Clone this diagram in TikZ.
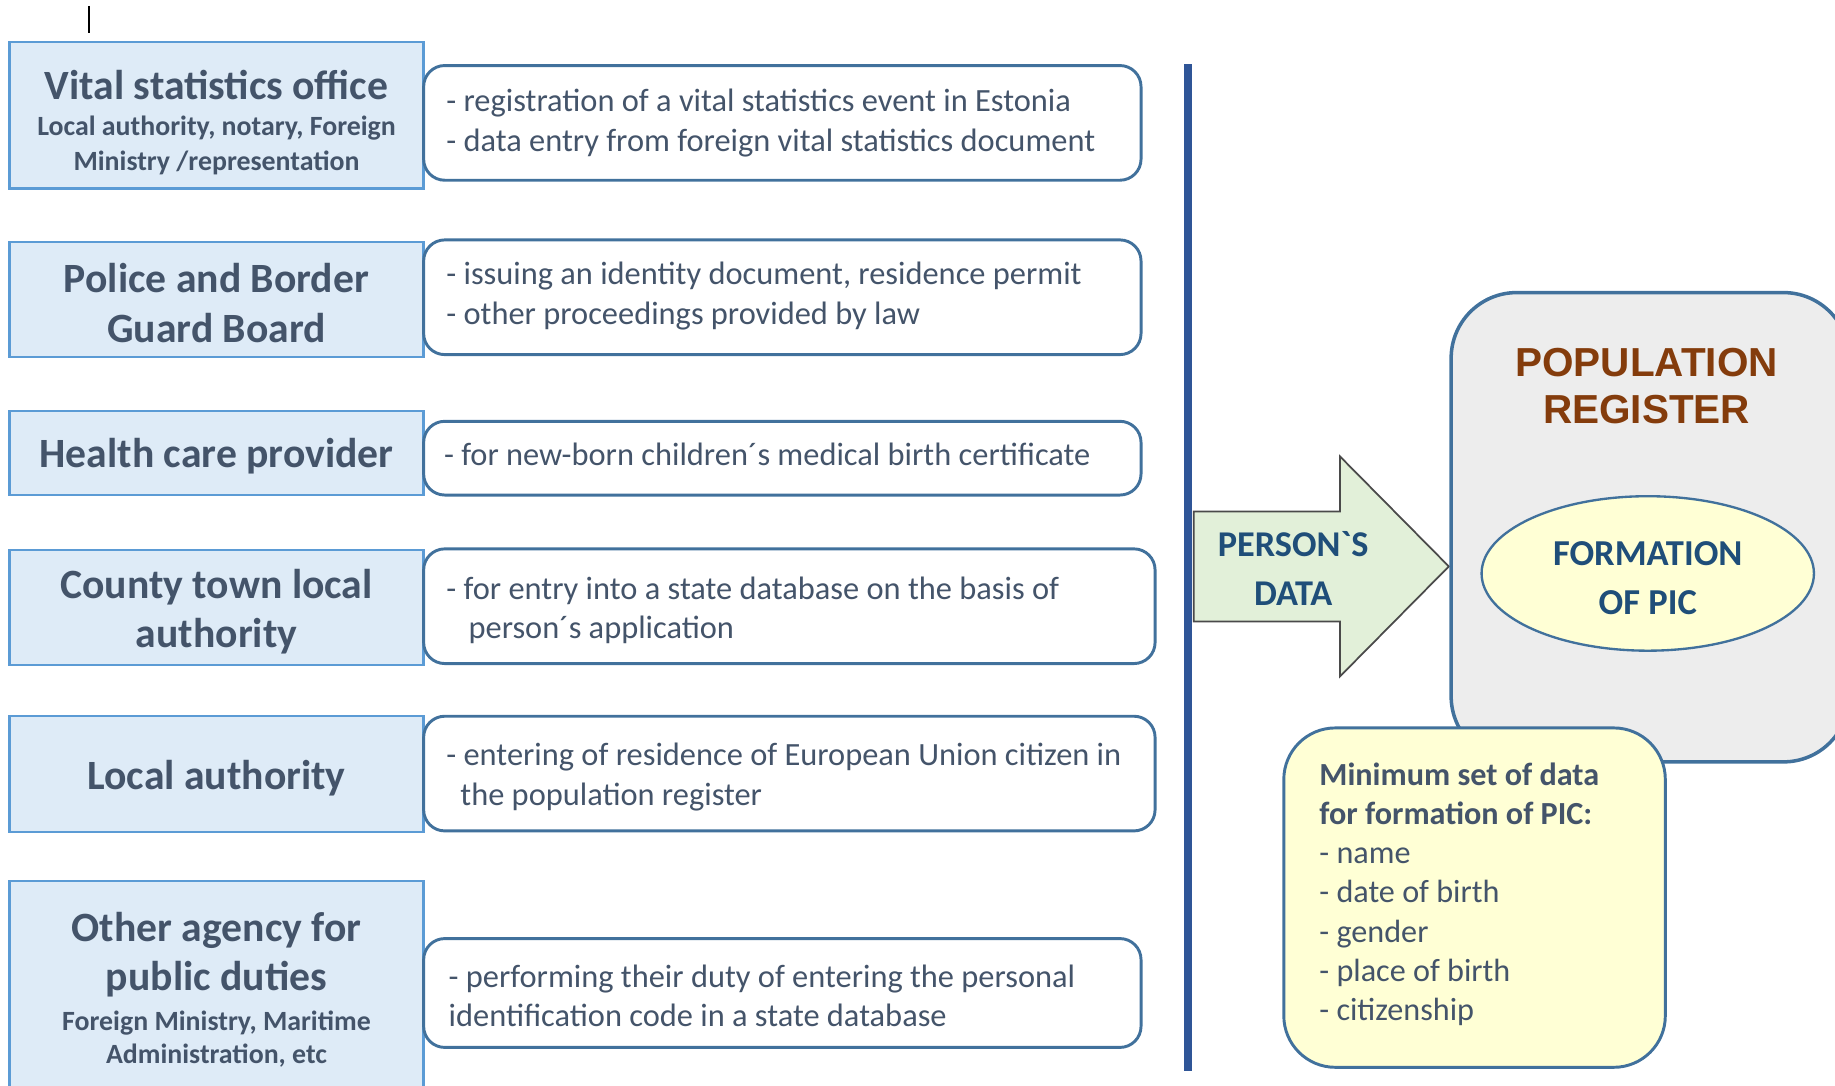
\documentclass[tikz,border=0pt]{standalone}
\usepackage{fontspec}
\setmainfont{Carlito}
\newfontfamily\rawcal{Carlito}
\newfontfamily\arialb{Liberation Sans}
\usetikzlibrary{shapes.geometric}
\definecolor{txt}{HTML}{44546A}
\definecolor{lfill}{HTML}{DEEBF7}
\definecolor{lborder}{HTML}{5B9BD5}
\definecolor{rborder}{HTML}{41719C}
\definecolor{vline}{HTML}{2F5597}
\definecolor{arrfill}{HTML}{E2F0D9}
\definecolor{arrdraw}{HTML}{4A4A4A}
\definecolor{prfill}{HTML}{EDEDED}
\definecolor{yfill}{HTML}{FFFFD5}
\definecolor{prbrown}{HTML}{843C0C}
\definecolor{dblue}{HTML}{1F4E79}
\begin{document}
\begin{tikzpicture}[x=0.5pt,y=-0.5pt,
  agency/.style={draw=lborder, fill=lfill, line width=1pt, minimum width=177pt, inner sep=0pt},
  agsub/.style={align=center, text=txt, font=\bfseries\fontsize{11.9}{15}\selectfont, inner sep=0pt},
  agtitle/.style={align=center, text=txt, font=\bfseries\fontsize{17.8}{21}\selectfont, inner sep=0pt},
  task/.style={draw=rborder, fill=white, line width=1.25pt, rounded corners=9pt, inner sep=0pt},
  tasktext/.style={anchor=west, align=left, text=txt, inner sep=0pt, font=\fontsize{13.85}{17}\selectfont},
]
\useasboundingbox (0,0) rectangle (1568,927.3);
\draw[black, line width=0.6pt] (76,5) -- (76,28);

% left agency boxes
\node[agency, minimum height=62.5pt] (vso) at (185,98.5) {};
\node[agtitle] (vsoT) at (185,73) {Vital statistics office};
\node[agsub] (vsoS) at (185,124) {Local authority, notary, Foreign\\Ministry /representation};
\node[agency, minimum height=49pt] (pbgb) at (185,256) {};
\node[agtitle] (pbgbT) at (185,259) {Police and Border\\Guard Board};
\node[agency, minimum height=36pt] (hcp) at (185,387) {};
\node[agtitle] (hcpT) at (185,390) {Health care provider};
\node[agency, minimum height=49pt] (ctla) at (185,519) {};
\node[agtitle] (ctlaT) at (185,523) {County town local\\authority};
\node[agency, minimum height=49.5pt] (la) at (185,661.5) {};
\node[agtitle] (laT) at (185,665) {Local authority};
\node[agency, minimum height=96pt] (oth) at (185,849) {};
\node[agtitle] (othT) at (185,816) {Other agency for\\public duties};
\node[agsub, font=\bfseries\fontsize{11.9}{14}\selectfont] (othS) at (185,888) {Foreign Ministry, Maritime\\Administration, etc};

% right task boxes
\node[task, minimum width=306.5pt, minimum height=49pt] (t1) at (668.5,105) {};
\node[tasktext] (t1T) at (381,105) {- registration of a vital statistics event in Estonia\\- data entry from foreign vital statistics document};
\node[task, minimum width=306.5pt, minimum height=49pt] (t2) at (668.5,254) {};
\node[tasktext] (t2T) at (381,253) {- issuing an identity document, residence permit\\- other proceedings provided by law};
\node[task, minimum width=306.5pt, minimum height=31.5pt] (t3) at (668.5,391.5) {};
\node[tasktext] (t3T) at (379,388.5) {- for new-born children´s medical birth certificate};
\node[task, minimum width=312.5pt, minimum height=49pt] (t4) at (674.5,518) {};
\node[tasktext] (t4T) at (381,521.5) {- for entry into a state database on the basis of\\\hspace*{9.5pt}person´s application};
\node[task, minimum width=312.5pt, minimum height=49pt] (t5) at (674.5,661) {};
\node[tasktext] (t5T) at (381,664) {- entering of residence of European Union citizen in\\\hspace*{6pt}the population register};
\node[task, minimum width=306.5pt, minimum height=46.5pt] (t6) at (668.5,848.5) {};
\node[tasktext] (t6T) at (383,851) {- performing their duty of entering the personal\\identification code in a state database};

% vertical bar
\draw[vline, line width=3.5pt] (1015,55) -- (1015,915);

% arrow
\filldraw[fill=arrfill, draw=arrdraw, line width=0.75pt] (1020,437) -- (1145,437) -- (1145,390) -- (1238,484) -- (1145,578) -- (1145,531) -- (1020,531) -- cycle;
\node[font=\rawcal\bfseries\fontsize{15.5}{21}\selectfont, text=dblue, align=center, inner sep=0pt] (pd) at (1105,486) {PERSON`S\\DATA};

% population register
\node[draw=rborder, fill=prfill, line width=1.5pt, rounded corners=28pt, minimum width=170pt, minimum height=200.5pt] (pr) at (1410,450.5) {};
\node[font=\arialb\bfseries\fontsize{17.3}{20}\selectfont, text=prbrown, align=center, inner sep=0pt] (prT) at (1407,330) {POPULATION\\REGISTER};
\node[ellipse, draw=rborder, fill=yfill, line width=1pt, minimum width=142pt, minimum height=66pt, inner sep=0pt] (pic) at (1408,490) {};
\node[font=\bfseries\fontsize{15.6}{21}\selectfont, text=dblue, align=center, inner sep=0pt] (picT) at (1408,494) {FORMATION\\OF PIC};

% minimum data box
\node[draw=rborder, fill=yfill, line width=1.25pt, rounded corners=22pt, minimum width=163pt, minimum height=145pt] (min) at (1260,767) {};
\node[anchor=west, align=left, text=txt, font=\fontsize{13.75}{16.75}\selectfont, inner sep=0pt] (minT) at (1127,764) {\textbf{Minimum set of data}\\\textbf{for formation of PIC:}\\- name\\- date of birth\\- gender\\- place of birth\\- citizenship};
\end{tikzpicture}
\end{document}
